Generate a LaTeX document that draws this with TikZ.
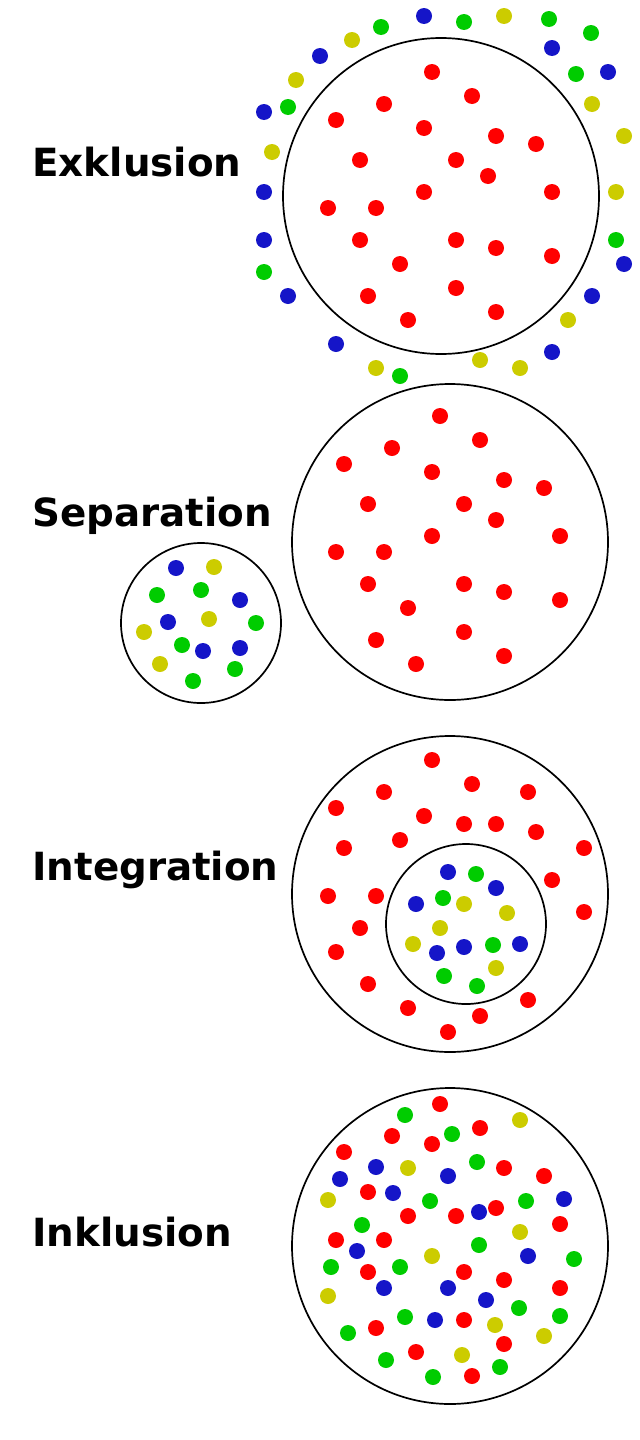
\documentclass[tikz,border=0pt]{standalone}
\usepackage{fontspec}
\setmainfont{DejaVu Sans}
\definecolor{dr}{RGB}{255,0,0}
\definecolor{db}{RGB}{21,21,200}
\definecolor{dg}{RGB}{0,204,0}
\definecolor{dy}{RGB}{204,204,0}
\begin{document}
\begin{tikzpicture}[x=0.5pt,y=-0.5pt,
  ring/.style={draw=black,line width=0.85pt},
  lbl/.style={anchor=base west,inner sep=0pt,font=\fontsize{19.4}{23}\selectfont\bfseries}]
\useasboundingbox (0,0) rectangle (640,1440);
\fill[white] (0,0) rectangle (640,1440);

% ---------- Exklusion ----------
\node[lbl] (exk) at (32,176) {Exklusion};
\draw[ring] (441,196) circle[radius=158];
\foreach \x/\y in {432/72,472/96,384/104,336/120,424/128,496/136,536/144,360/160,456/160,488/176,424/192,552/192,328/208,376/208,360/240,456/240,496/248,552/256,400/264,368/296,456/288,408/320,496/312}
  \fill[dr] (\x,\y) circle[radius=8];
\foreach \c/\x/\y in {db/424/16,dg/464/22,dy/504/16,dg/549/19,dg/591/33,db/552/48,dg/576/74,db/608/72,dy/592/104,dy/624/136,dy/616/192,dg/616/240,db/624/264,db/592/296,dy/568/320,db/552/352,dy/520/368,dy/480/360,dg/400/376,dy/376/368,db/336/344,db/288/296,dg/264/272,db/264/240,db/264/192,dy/272/152,db/264/112,dg/288/107,dy/296/80,db/320/56,dy/352/40,dg/381/27}
  \fill[\c] (\x,\y) circle[radius=8];

% ---------- Separation ----------
\node[lbl] (sep) at (32,526) {Separation};
\draw[ring] (450,542) circle[radius=158];
\foreach \x/\y in {440/416,480/440,392/448,344/464,432/472,504/480,544/488,368/504,464/504,496/520,432/536,560/536,336/552,384/552,368/584,464/584,504/592,560/600,408/608,376/640,464/632,416/664,504/656}
  \fill[dr] (\x,\y) circle[radius=8];
\draw[ring] (201,623) circle[radius=80];
\foreach \c/\x/\y in {db/176/568,dy/214/567,dg/157/595,dg/201/590,db/240/600,db/168/622,dy/209/619,dg/256/623,dy/144/632,dg/182/645,db/203/651,db/240/648,dy/160/664,dg/235/669,dg/193/681}
  \fill[\c] (\x,\y) circle[radius=8];

% ---------- Integration ----------
\node[lbl] (int) at (32,880) {Integration};
\draw[ring] (450,894) circle[radius=158];
\foreach \x/\y in {432/760,472/784,384/792,528/792,336/808,424/816,464/824,496/824,536/832,400/840,344/848,584/848,552/880,328/896,376/896,584/912,360/928,336/952,368/984,528/1000,408/1008,480/1016,448/1032}
  \fill[dr] (\x,\y) circle[radius=8];
\draw[ring] (466,924) circle[radius=80];
\foreach \c/\x/\y in {db/448/872,dg/476/874,db/496/888,dg/443/898,dy/464/904,db/416/904,dy/507/913,dy/440/928,dy/413/944,db/437/953,db/464/947,dg/493/945,db/520/944,dy/496/968,dg/444/976,dg/477/986}
  \fill[\c] (\x,\y) circle[radius=8];

% ---------- Inklusion ----------
\node[lbl] (ink) at (32,1246) {Inklusion};
\draw[ring] (450,1246) circle[radius=158];
\foreach \c/\x/\y in {dr/440/1104,dg/405/1115,dy/520/1120,dr/392/1136,dg/452/1134,dr/480/1128,dr/432/1144,dr/344/1152,db/376/1167,dy/408/1168,dg/477/1162,dr/504/1168,db/448/1176,dr/544/1176,db/340/1179,dr/368/1192,db/393/1193,dy/328/1200,dg/430/1201,dg/526/1201,db/564/1199,dr/408/1216,dr/456/1216,db/479/1212,dr/496/1208,dr/560/1224,dg/362/1225,dy/520/1232,dr/336/1240,dr/384/1240,db/357/1251,dg/479/1245,dy/432/1256,db/528/1256,dg/574/1259,dg/331/1267,dr/368/1272,dg/400/1267,dr/464/1272,dr/504/1280,db/384/1288,db/448/1288,dy/328/1296,dr/560/1288,db/486/1300,dg/519/1308,dg/405/1317,db/435/1320,dr/464/1320,dy/495/1325,dg/560/1316,dg/348/1333,dr/376/1328,dy/544/1336,dr/504/1344,dr/416/1352,dy/462/1355,dg/386/1360,dg/500/1367,dg/433/1377,dr/472/1376}
  \fill[\c] (\x,\y) circle[radius=8];
\end{tikzpicture}
\end{document}
